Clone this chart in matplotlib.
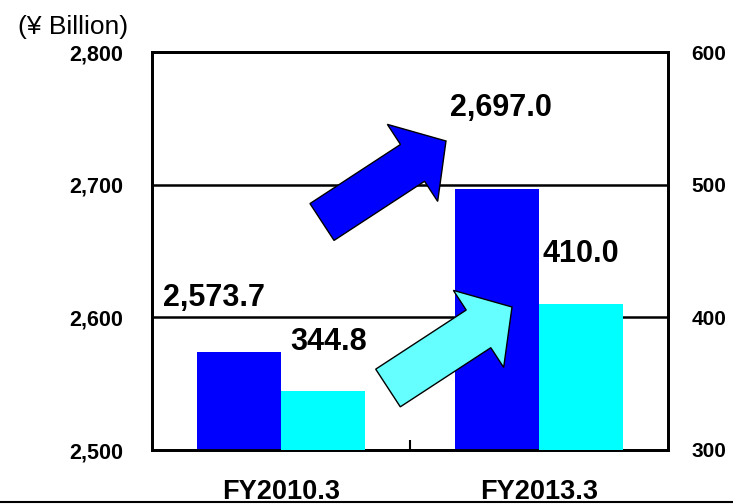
import matplotlib
matplotlib.use("Agg")
import matplotlib.pyplot as plt
from matplotlib.patches import FancyArrow
from matplotlib.lines import Line2D
import numpy as np

plt.rcParams['font.family'] = ['Liberation Sans', 'DejaVu Sans']

periods = ["FY2010.3", "FY2013.3"]
sales = [2573.7, 2697.0]          # left axis
income = [344.8, 410.0]           # right axis
sales_labels = ["2,573.7", "2,697.0"]
income_labels = ["344.8", "410.0"]
left_ticks = [2500, 2600, 2700, 2800]
right_ticks = [300, 400, 500, 600]

BLUE = "#0000FF"
CYAN = "#00FFFF"
LIGHT_CYAN = "#66FFFF"

fig = plt.figure(figsize=(7.33, 5.04), dpi=100)
ax = fig.add_axes([152 / 733, 1 - 450 / 504, 516 / 733, 398 / 504])
ax2 = ax.twinx()

x = np.arange(len(periods))
w = 0.325
ax.bar(x - w / 2, sales, width=w, color=BLUE, zorder=3)
ax2.bar(x + w / 2, income, width=w, color=CYAN, zorder=3)

ax.set_xlim(-0.5, 1.5)
ax.set_ylim(2500, 2800)
ax2.set_ylim(300, 600)

ax.set_yticks(left_ticks)
ax.set_yticklabels([f"{v:,}" for v in left_ticks], fontsize=15.5, fontweight="heavy")
ax2.set_yticks(right_ticks)
ax2.set_yticklabels([str(v) for v in right_ticks], fontsize=15, fontweight="heavy")
ax.tick_params(axis="y", length=0, pad=21)
ax2.tick_params(axis="y", length=0, pad=17)

ax.set_xticks(x)
ax.set_xticklabels(periods, fontsize=19.5, fontweight="heavy")
ax.tick_params(axis="x", which="major", length=0, pad=21)
ax.set_xticks([0.5], minor=True)
ax.tick_params(axis="x", which="minor", direction="in", length=7, width=1.5)

for v in left_ticks[1:-1]:
    ax.axhline(v, color="black", lw=1.8, zorder=1)

for a in (ax, ax2):
    for s in a.spines.values():
        s.set_linewidth(2)

# value labels
ax.text(-0.457, sales[0] + 41, sales_labels[0], fontsize=22, fontweight="bold", va="center", ha="left")
ax2.text(0.035, income[0] + 36.5, income_labels[0], fontsize=22, fontweight="bold", va="center", ha="left")
ax.text(0.655, sales[1] + 60.5, sales_labels[1], fontsize=22, fontweight="bold", va="center", ha="left")
ax2.text(1.013, income[1] + 37.5, income_labels[1], fontsize=22, fontweight="bold", va="center", ha="left")

fig.text(18 / 733, 1 - 27 / 504, "(\u00a5 Billion)", fontsize=19, va="center", ha="left")

# arrows in a pixel-space overlay
ov = fig.add_axes([0, 0, 1, 1], zorder=5)
ov.set_xlim(0, 733)
ov.set_ylim(504, 0)
ov.axis("off")
ov.add_patch(FancyArrow(322, 222, 124, -81, width=44, head_width=92, head_length=40,
                        length_includes_head=True, facecolor=BLUE, edgecolor="black", lw=1))
ov.add_patch(FancyArrow(388, 388, 124, -81, width=45, head_width=92, head_length=40,
                        length_includes_head=True, facecolor=LIGHT_CYAN, edgecolor="black", lw=1))

fig.add_artist(Line2D([0, 1], [1 - 502 / 504] * 2, color="black", lw=1.5, transform=fig.transFigure))

fig.savefig("out.png", dpi=100)
